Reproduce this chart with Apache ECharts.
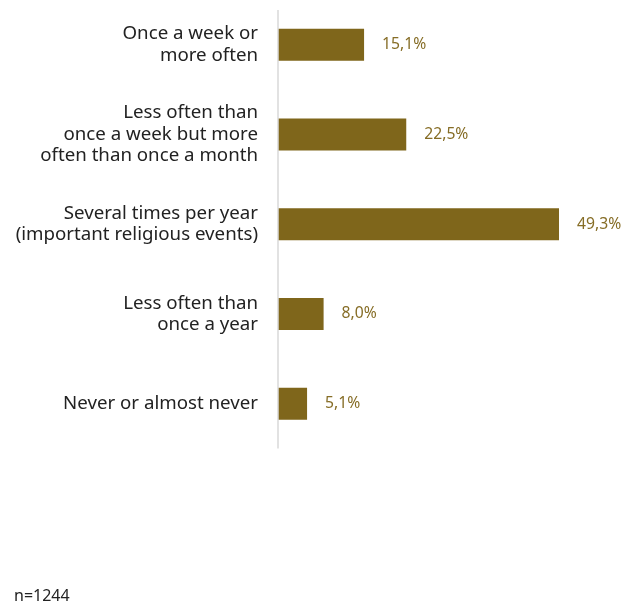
<!DOCTYPE html>
<html>
<head>
<meta charset="utf-8">
<script src="https://cdn.jsdelivr.net/npm/echarts@6/dist/echarts.min.js"></script>
<style>
  html, body { margin: 0; padding: 0; background: #fff; }
  #chart { width: 638px; height: 608px; }
</style>
</head>
<body>
<div id="chart"></div>
<script>
// Frequency of attendance, share of respondents (%)
const categories = [
  'Once a week or\nmore often',
  'Less often than\nonce a week but more\noften than once a month',
  'Several times per year\n(important religious events)',
  'Less often than\nonce a year',
  'Never or almost never'
];
const values = [15.1, 22.5, 49.3, 8.0, 5.1];
const sampleNote = 'n=1244';

const barColor = '#7f661b';
const labelColor = '#866d26';
const font = '"Noto Sans", "Open Sans", sans-serif';

const chart = echarts.init(document.getElementById('chart'), null, { renderer: 'canvas' });
chart.setOption({
  animation: false,
  grid: { left: 278, top: 0, width: 342, bottom: 159.5, containLabel: false },
  xAxis: {
    type: 'value', min: 0, max: 60,
    show: false
  },
  yAxis: {
    type: 'category',
    inverse: true,
    data: categories,
    axisLine: { show: false },
    axisTick: { show: false },
    axisLabel: {
      margin: 20,
      color: '#222222',
      fontFamily: font,
      fontSize: 18.7,
      lineHeight: 21.5,
      align: 'right'
    }
  },
  series: [{
    type: 'bar',
    data: values,
    barWidth: 32,
    itemStyle: { color: barColor },
    label: {
      show: true,
      position: 'right',
      distance: 18,
      color: labelColor,
      fontFamily: font,
      fontSize: 15.7,
      formatter: p => p.value.toFixed(1).replace('.', ',') + '%'
    }
  }]
});

// Category axis line at x = 0, starting a little below the top of the plot
const axisX = chart.convertToPixel({ xAxisIndex: 0 }, 0);
const gridRect = chart.getModel().getComponent('grid').coordinateSystem.getRect();
chart.setOption({
  graphic: [{
    type: 'text',
    left: 14,
    top: 588,
    style: { text: sampleNote, fill: '#222222', font: '16px ' + font }
  }, {
    type: 'line',
    shape: { x1: axisX, y1: gridRect.y + 10, x2: axisX, y2: gridRect.y + gridRect.height },
    style: { stroke: '#d9d9d9', lineWidth: 1.5 },
    z: 10
  }]
});
</script>
</body>
</html>
